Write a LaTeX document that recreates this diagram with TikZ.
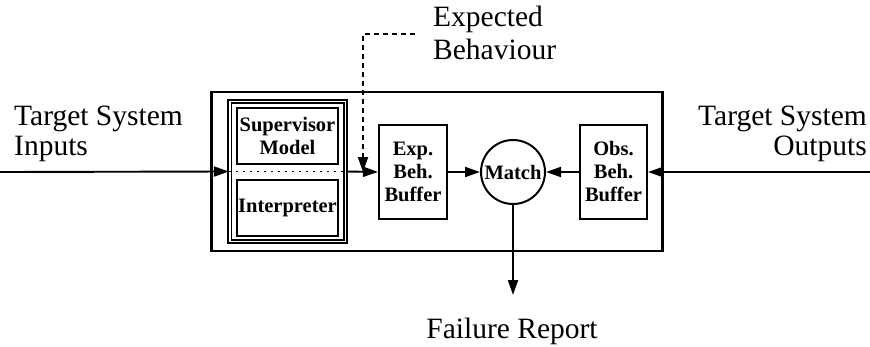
\documentclass[tikz,border=0pt]{standalone}
\usepackage{fontspec}
\setmainfont{Liberation Serif}
\usetikzlibrary{arrows.meta}
\begin{document}
\begin{tikzpicture}[x=1pt,y=-1pt,
  every node/.style={inner sep=0pt},
  lbl/.style={font=\fontsize{29.5}{30}\selectfont},
  blk/.style={draw,line width=2pt,align=center,
    font=\bfseries\fontsize{20.5}{23}\selectfont},
  frame/.style={draw,line width=2.2pt},
  arr/.style={line width=1.9pt,-{Triangle[length=15pt,width=10pt]}},
  flow/.style={line width=1.9pt,dash pattern=on 5pt off 4pt,
    -{Triangle[length=15pt,width=10pt]}},
  sep/.style={line width=1.9pt,dash pattern=on 2pt off 5pt}]

  \fill[white] (0,0) rectangle (870,346);
  \useasboundingbox (0,0) rectangle (870,346);

  % monitor frame
  \node[frame,minimum width=451pt,minimum height=159pt] (mon) at (437,171.5) {};

  % supervisor unit: double-walled box holding model and interpreter
  \node[draw,line width=1.8pt,double,double distance=1.6pt,
        minimum width=115.7pt,minimum height=140pt] (sup) at (287.6,171.5) {};
  \node[blk,minimum width=101pt,minimum height=56pt] (model) at (287.5,136) {Supervisor\\Model};
  \node[blk,minimum width=101pt,minimum height=56pt] (interp) at (287.5,208) {Interpreter};

  % buffers and comparator
  \node[blk,minimum width=68pt,minimum height=94pt] (exp) at (413,172) {Exp.\\Beh.\\Buffer};
  \node[blk,circle,minimum size=64pt] (match) at (513,172) {Match};
  \node[blk,minimum width=67pt,minimum height=94pt] (obs) at (613.5,172) {Obs.\\Beh.\\Buffer};

  % external labels
  \node[lbl,align=left,anchor=north west] (inlbl) at (14,105.5) {Target System\\Inputs};
  \node[lbl,align=right,anchor=north east] (outlbl) at (867,105.5) {Target System\\Outputs};
  \node[lbl,align=left,anchor=north west,
        font=\fontsize{29.5}{33}\selectfont] (eblbl) at (433,6) {Expected\\Behaviour};
  \node[lbl,anchor=base] (faillbl) at (512,338) {Failure Report};

  % free ends of connectors
  \coordinate (inL) at (0,172);
  \coordinate (inR) at (870,172);
  \coordinate (ebA) at (415,34);
  \coordinate (ebB) at (363,34);
  \coordinate (ebC) at (363,172);
  \coordinate (fail) at (513,295);

  % connectors
  \draw[sep] (sup.west) -- (sup.east);
  \draw[arr] (inL) -- (sup.west);
  \draw[arr] (sup.east) -- (exp.west);
  \draw[flow] (ebA) -- (ebB) -- (ebC);
  \draw[arr] (exp.east) -- (match.west);
  \draw[arr] (inR) -- (obs.east);
  \draw[arr] (obs.west) -- (match.east);
  \draw[arr] (match.south) -- (fail);
\end{tikzpicture}
\end{document}
